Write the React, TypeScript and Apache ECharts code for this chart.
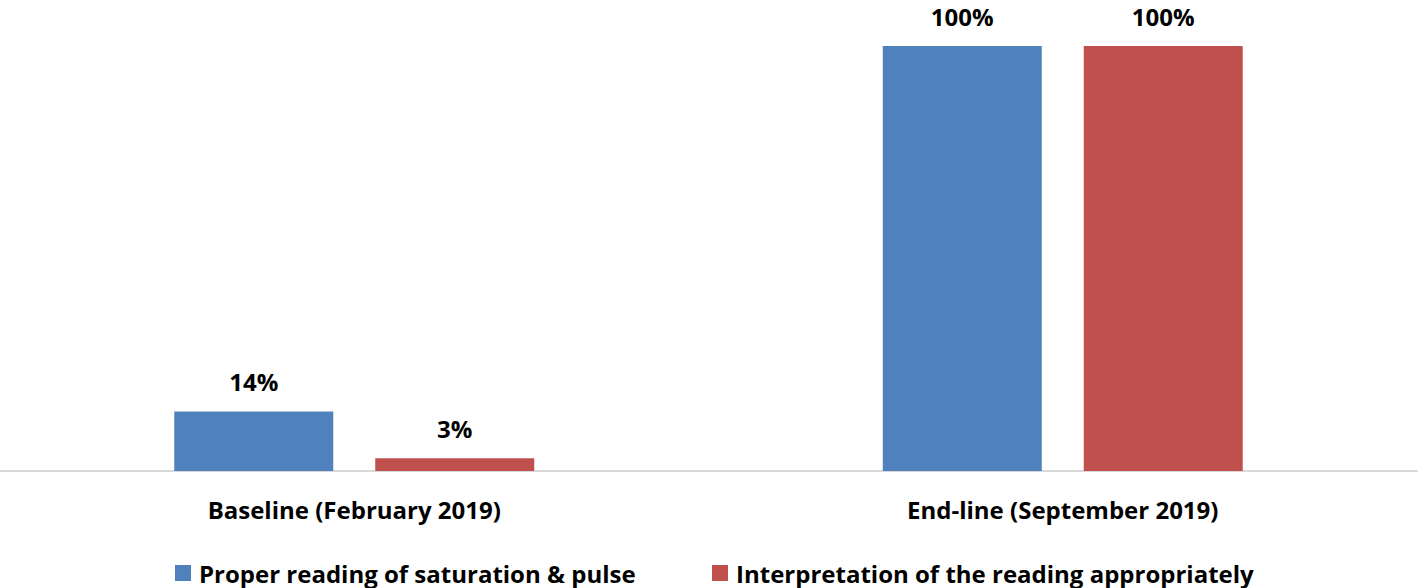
import React, { useEffect, useRef } from "react";
import * as echarts from "echarts";

const categories = ["Baseline (February 2019)", "End-line (September 2019)"];
const seriesNames = ["Proper reading of saturation & pulse", "Interpretation of the reading appropriately"];
const properReading = [14, 100];
const interpretation = [3, 100];

const FONT = "Open Sans";

export default function App() {
  const ref = useRef<HTMLDivElement>(null);
  useEffect(() => {
    if (!ref.current) return;
    const chart = echarts.init(ref.current, undefined, { renderer: "svg" });
    const label = {
      show: true,
      position: "top",
      distance: 18,
      formatter: "{c}%",
      fontFamily: FONT,
      fontWeight: "bold",
      fontSize: 24,
      color: "#000",
    };
    const legendText = {
      fontFamily: FONT,
      fontWeight: "bold",
      fontSize: 24,
      color: "#000",
      lineHeight: 24,
      padding: [0, 0, 0, 3],
    };
    chart.setOption({
      animation: false,
      grid: { left: 0, right: 4, top: 46, bottom: 117, containLabel: false },
      legend: [
        {
          data: [seriesNames[0]],
          left: 170,
          top: 556,
          itemWidth: 16,
          itemHeight: 16,
          icon: "rect",
          textStyle: legendText,
        },
        {
          data: [seriesNames[1]],
          left: 707,
          top: 556,
          itemWidth: 16,
          itemHeight: 16,
          icon: "rect",
          textStyle: legendText,
        },
      ],
      xAxis: {
        type: "category",
        data: categories,
        axisLine: { show: true, lineStyle: { color: "#d9d9d9", width: 2 } },
        axisTick: { show: false },
        axisLabel: {
          margin: 26,
          fontFamily: FONT,
          fontWeight: "bold",
          fontSize: 24,
          color: "#000",
        },
      },
      yAxis: {
        type: "value",
        min: 0,
        max: 100,
        show: false,
        splitLine: { show: false },
      },
      series: [
        {
          name: seriesNames[0],
          type: "bar",
          data: properReading,
          barWidth: 159,
          barGap: "26.4%",
          itemStyle: { color: "#4F81BD" },
          label,
        },
        {
          name: seriesNames[1],
          type: "bar",
          data: interpretation,
          barWidth: 159,
          barGap: "26.4%",
          itemStyle: { color: "#C0504D" },
          label,
        },
      ],
    });
    return () => chart.dispose();
  }, []);
  return (
    <div
      ref={ref}
      style={{ position: "fixed", left: 0, top: 0, width: 1421, height: 588, background: "#fff" }}
    />
  );
}
